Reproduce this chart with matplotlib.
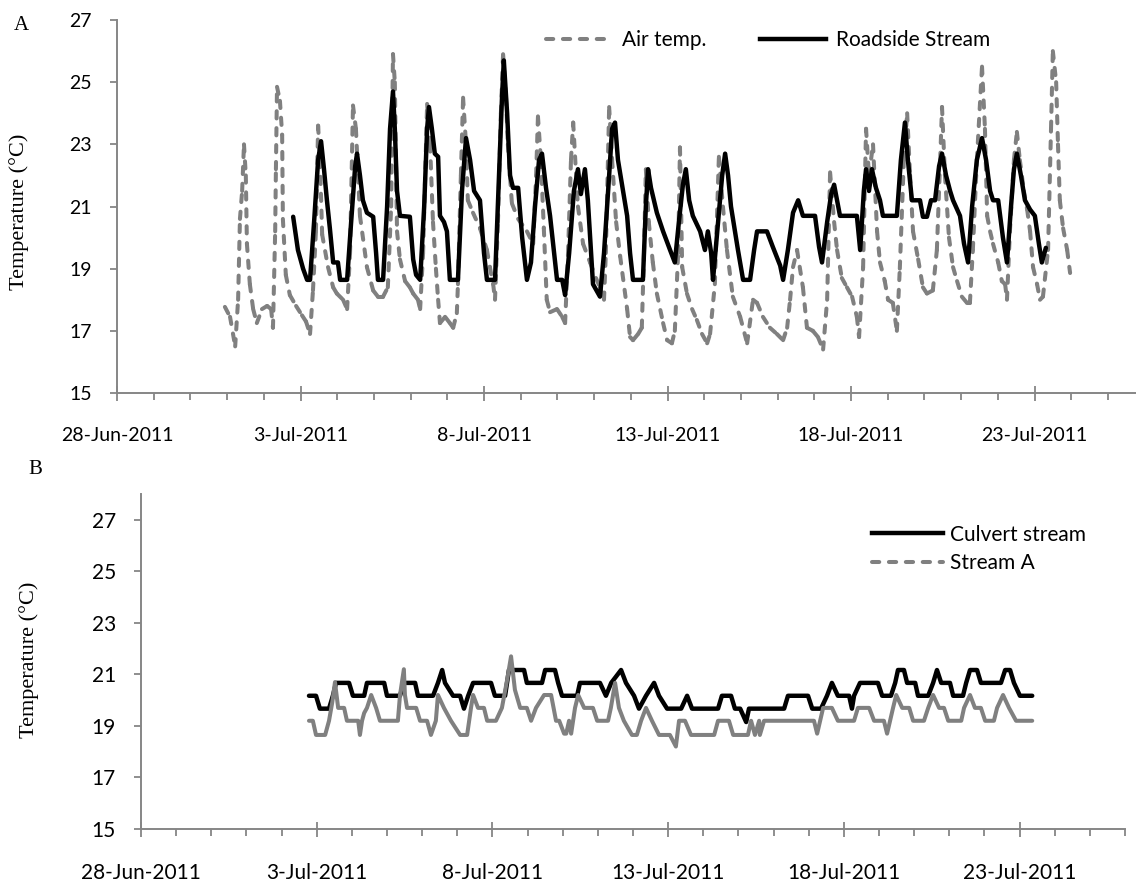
import numpy as np
import pandas as pd
import matplotlib
matplotlib.use("Agg")
import matplotlib.pyplot as plt
import matplotlib.dates as mdates
from matplotlib.collections import LineCollection
from matplotlib.lines import Line2D

# (days after 28-Jun-2011 00:00, temperature in degC)
air_temp = [
    (2.94, 17.77), (3.08, 17.45), (3.22, 16.5), (3.30, 18.0), (3.35, 20.6), (3.41, 21.5), (3.46, 23.0),
    (3.51, 22.0), (3.54, 19.8), (3.62, 18.5), (3.71, 17.7), (3.81, 17.25), (3.95, 17.7), (4.09, 17.8),
    (4.20, 17.7), (4.25, 17.1), (4.31, 20.2), (4.33, 22.2), (4.36, 24.85), (4.44, 24.4), (4.50, 23.3),
    (4.52, 20.6), (4.60, 18.8), (4.71, 18.15), (4.88, 17.8), (5.04, 17.5), (5.15, 17.3), (5.26, 16.9),
    (5.34, 18.3), (5.42, 20.2), (5.48, 23.6), (5.53, 22.5), (5.59, 20.1), (5.75, 19.05), (5.89, 18.4),
    (5.99, 18.2), (6.16, 18.0), (6.27, 17.7), (6.35, 19.5), (6.43, 24.25), (6.51, 23.5), (6.57, 22.0),
    (6.62, 20.7), (6.81, 19.05), (6.98, 18.3), (7.11, 18.1), (7.25, 18.1), (7.38, 18.4), (7.47, 21.0),
    (7.52, 25.9), (7.57, 25.0), (7.63, 20.2), (7.71, 19.3), (7.85, 18.6), (7.98, 18.4), (8.07, 18.2),
    (8.20, 18.0), (8.26, 17.7), (8.34, 19.5), (8.45, 24.3), (8.53, 23.0), (8.61, 20.5), (8.69, 19.0),
    (8.75, 18.0), (8.80, 17.25), (8.94, 17.45), (9.07, 17.25), (9.16, 17.1), (9.26, 17.57), (9.29, 18.5),
    (9.37, 22.0), (9.43, 24.5), (9.51, 23.0), (9.56, 21.2), (9.70, 20.8), (9.89, 20.3), (10.08, 19.6),
    (10.16, 19.05), (10.25, 18.5), (10.30, 18.0), (10.38, 20.5), (10.46, 24.0), (10.52, 25.9),
    (10.60, 24.5), (10.65, 23.0), (10.76, 21.1), (10.93, 20.6), (11.17, 20.2), (11.34, 19.8),
    (11.42, 22.0), (11.47, 23.9), (11.55, 22.5), (11.63, 20.3), (11.71, 18.0), (11.80, 17.6),
    (11.99, 17.7), (12.13, 17.45), (12.21, 17.25), (12.29, 19.5), (12.37, 22.5), (12.43, 23.7),
    (12.51, 22.0), (12.56, 21.0), (12.70, 19.8), (12.89, 19.2), (13.05, 18.7), (13.16, 18.4),
    (13.27, 18.0), (13.32, 19.5), (13.41, 24.2), (13.49, 22.5), (13.60, 20.5), (13.71, 19.4),
    (13.90, 17.7), (13.98, 16.8), (14.06, 16.7), (14.20, 16.9), (14.30, 17.1), (14.36, 19.5),
    (14.41, 22.2), (14.49, 20.5), (14.60, 19.2), (14.71, 18.2), (14.88, 17.25), (14.99, 16.7),
    (15.12, 16.6), (15.20, 17.0), (15.29, 19.5), (15.34, 22.9), (15.40, 19.05), (15.53, 18.2),
    (15.67, 17.7), (15.80, 17.35), (15.94, 16.9), (16.08, 16.6), (16.16, 16.9), (16.29, 18.5),
    (16.40, 22.6), (16.51, 21.0), (16.62, 19.6), (16.78, 18.1), (16.98, 17.45), (17.17, 16.6),
    (17.33, 18.0), (17.44, 17.9), (17.60, 17.45), (17.79, 17.1), (17.98, 16.9), (18.15, 16.7),
    (18.26, 17.1), (18.34, 18.0), (18.42, 19.05), (18.53, 19.6), (18.69, 18.4), (18.80, 17.1),
    (18.96, 17.0), (19.10, 16.8), (19.24, 16.4), (19.35, 18.0), (19.43, 22.1), (19.54, 20.5),
    (19.62, 19.6), (19.75, 18.7), (19.89, 18.4), (20.03, 18.1), (20.16, 17.45), (20.22, 16.8),
    (20.33, 19.05), (20.41, 23.5), (20.49, 22.0), (20.60, 23.0), (20.71, 20.2), (20.79, 19.2),
    (20.92, 18.6), (21.01, 18.0), (21.14, 17.9), (21.25, 17.0), (21.33, 19.0), (21.44, 22.5),
    (21.53, 24.0), (21.61, 22.0), (21.69, 20.2), (21.83, 19.3), (21.96, 18.4), (22.07, 18.2),
    (22.23, 18.3), (22.34, 19.6), (22.43, 22.5), (22.48, 24.2), (22.56, 22.0), (22.67, 20.0),
    (22.78, 19.05), (22.89, 18.6), (23.02, 18.1), (23.16, 17.9), (23.24, 17.9), (23.32, 19.6),
    (23.43, 22.5), (23.57, 25.5), (23.65, 23.5), (23.71, 20.7), (23.79, 20.2), (23.87, 19.8),
    (24.01, 19.2), (24.11, 18.6), (24.20, 18.5), (24.25, 18.0), (24.33, 20.2), (24.44, 22.5),
    (24.52, 23.4), (24.60, 22.5), (24.71, 21.5), (24.80, 20.9), (24.88, 20.2), (24.96, 19.05),
    (25.07, 18.5), (25.15, 18.0), (25.23, 18.1), (25.37, 19.6), (25.45, 23.5), (25.50, 26.0),
    (25.59, 25.0), (25.64, 23.0), (25.69, 21.2), (25.78, 20.3), (25.89, 19.6), (25.97, 18.86),
]

roadside = [
    (4.80, 20.67), (4.93, 19.6), (5.07, 19.0), (5.18, 18.64), (5.26, 18.64), (5.37, 20.5), (5.48, 22.5),
    (5.56, 23.1), (5.64, 22.2), (5.72, 21.2), (5.80, 20.3), (5.89, 19.2), (6.02, 19.2), (6.08, 18.64),
    (6.27, 18.64), (6.38, 20.5), (6.49, 22.3), (6.54, 22.7), (6.62, 22.0), (6.70, 21.2), (6.81, 20.8),
    (6.98, 20.67), (7.06, 19.5), (7.11, 18.64), (7.25, 18.64), (7.36, 21.0), (7.44, 23.5), (7.52, 24.7),
    (7.57, 23.5), (7.63, 21.5), (7.71, 20.7), (7.98, 20.67), (8.07, 19.3), (8.15, 18.8), (8.26, 18.64),
    (8.37, 21.0), (8.45, 23.5), (8.50, 24.2), (8.58, 23.5), (8.66, 22.7), (8.75, 22.6), (8.80, 20.7),
    (8.91, 20.5), (8.99, 20.2), (9.07, 18.64), (9.29, 18.64), (9.40, 21.5), (9.51, 23.2), (9.62, 22.5),
    (9.73, 21.5), (9.89, 21.2), (10.00, 19.5), (10.08, 18.64), (10.30, 18.64), (10.41, 22.0),
    (10.49, 24.5), (10.54, 25.7), (10.63, 24.0), (10.71, 22.0), (10.79, 21.6), (10.93, 21.6),
    (11.04, 20.0), (11.17, 18.64), (11.28, 19.2), (11.39, 21.0), (11.50, 22.5), (11.58, 22.7),
    (11.69, 21.6), (11.80, 20.7), (11.91, 19.5), (11.99, 18.64), (12.13, 18.64), (12.21, 18.15),
    (12.32, 19.5), (12.45, 21.5), (12.56, 22.2), (12.64, 21.4), (12.75, 22.2), (12.83, 21.2),
    (12.97, 18.5), (13.16, 18.1), (13.27, 19.5), (13.41, 22.0), (13.49, 23.5), (13.57, 23.7),
    (13.65, 22.5), (13.76, 21.7), (13.90, 20.7), (13.98, 19.5), (14.06, 18.64), (14.33, 18.64),
    (14.41, 21.0), (14.47, 22.2), (14.55, 21.6), (14.71, 20.8), (14.88, 20.2), (15.07, 19.6),
    (15.20, 19.2), (15.31, 20.5), (15.42, 21.7), (15.50, 22.2), (15.59, 21.2), (15.69, 20.7),
    (15.89, 20.2), (16.02, 19.6), (16.10, 20.2), (16.19, 19.5), (16.24, 18.64), (16.38, 20.5),
    (16.49, 22.0), (16.57, 22.7), (16.65, 22.0), (16.73, 21.0), (16.84, 20.2), (16.92, 19.6),
    (17.06, 18.64), (17.25, 18.64), (17.36, 19.6), (17.44, 20.2), (17.71, 20.2), (17.87, 19.7),
    (18.07, 19.1), (18.15, 18.64), (18.28, 19.6), (18.42, 20.8), (18.56, 21.2), (18.69, 20.7),
    (19.02, 20.7), (19.13, 19.7), (19.21, 19.2), (19.35, 20.5), (19.46, 21.4), (19.54, 21.7),
    (19.62, 21.2), (19.70, 20.7), (20.16, 20.7), (20.25, 19.6), (20.35, 21.5), (20.41, 22.2),
    (20.49, 21.5), (20.57, 22.2), (20.68, 21.6), (20.79, 21.2), (20.87, 20.7), (21.25, 20.7),
    (21.36, 22.5), (21.47, 23.7), (21.55, 22.5), (21.66, 21.2), (21.88, 21.2), (21.96, 20.67),
    (22.07, 20.67), (22.18, 21.2), (22.29, 21.2), (22.40, 22.3), (22.48, 22.7), (22.59, 22.0),
    (22.70, 21.5), (22.78, 21.2), (22.97, 20.7), (23.08, 19.8), (23.19, 19.2), (23.30, 21.0),
    (23.43, 22.5), (23.57, 23.2), (23.68, 22.5), (23.79, 21.5), (23.87, 21.2), (24.01, 21.2),
    (24.14, 20.0), (24.25, 19.2), (24.36, 21.0), (24.44, 22.2), (24.52, 22.7), (24.63, 22.0),
    (24.74, 21.2), (24.88, 20.9), (25.01, 20.7), (25.12, 19.8), (25.20, 19.2), (25.31, 19.67),
]

culvert = [
    (4.78, 20.17), (4.98, 20.17), (5.09, 19.67), (5.35, 19.67), (5.46, 20.17), (5.55, 20.67),
    (5.92, 20.67), (6.03, 20.17), (6.35, 20.17), (6.43, 20.67), (6.92, 20.67), (7.00, 20.17),
    (7.37, 20.17), (7.48, 20.67), (7.80, 20.67), (7.88, 20.17), (8.31, 20.17), (8.45, 20.67),
    (8.57, 21.17), (8.65, 20.67), (8.88, 20.17), (9.08, 20.17), (9.19, 19.67), (9.31, 20.17),
    (9.45, 20.67), (9.96, 20.67), (10.07, 20.17), (10.36, 20.17), (10.47, 21.17), (10.90, 21.17),
    (10.98, 20.67), (11.41, 20.67), (11.50, 21.17), (11.78, 21.17), (11.87, 20.67), (11.98, 20.17),
    (12.41, 20.17), (12.49, 20.67), (13.06, 20.67), (13.23, 20.17), (13.38, 20.67), (13.66, 21.17),
    (13.80, 20.67), (14.03, 20.17), (14.17, 19.67), (14.37, 20.17), (14.60, 20.67), (14.74, 20.17),
    (14.97, 19.67), (15.37, 19.67), (15.54, 20.17), (15.68, 19.67), (16.42, 19.67), (16.53, 20.17),
    (16.79, 20.17), (16.90, 19.67), (17.05, 19.67), (17.22, 19.15), (17.30, 19.67), (18.30, 19.67),
    (18.41, 20.17), (18.98, 20.17), (19.10, 19.67), (19.35, 19.67), (19.52, 20.17), (19.66, 20.67),
    (19.83, 20.17), (20.15, 20.17), (20.23, 19.67), (20.29, 20.17), (20.46, 20.67), (20.97, 20.67),
    (21.09, 20.17), (21.34, 20.17), (21.46, 20.67), (21.54, 21.17), (21.71, 21.17), (21.80, 20.67),
    (22.03, 20.67), (22.11, 20.17), (22.40, 20.17), (22.54, 20.67), (22.65, 21.17), (22.77, 20.67),
    (23.02, 20.67), (23.11, 20.17), (23.39, 20.17), (23.48, 20.67), (23.59, 21.17), (23.79, 21.17),
    (23.90, 20.67), (24.47, 20.67), (24.59, 21.17), (24.73, 21.17), (24.84, 20.67), (25.01, 20.17),
    (25.36, 20.17),
]

stream_a = [
    (4.78, 19.2), (4.89, 19.2), (4.98, 18.65), (5.24, 18.65), (5.35, 19.2), (5.44, 19.9), (5.52, 20.7),
    (5.61, 19.7), (5.78, 19.7), (5.86, 19.2), (6.18, 19.2), (6.23, 18.65), (6.29, 19.2), (6.35, 19.5),
    (6.43, 19.7), (6.55, 20.2), (6.69, 19.7), (6.80, 19.2), (7.31, 19.2), (7.37, 20.2), (7.48, 21.2),
    (7.51, 20.2), (7.57, 19.7), (7.83, 19.7), (7.94, 19.2), (8.14, 19.2), (8.25, 18.65), (8.39, 19.2),
    (8.45, 20.2), (8.62, 19.7), (8.82, 19.2), (9.08, 18.65), (9.28, 18.65), (9.39, 19.7), (9.45, 20.2),
    (9.59, 19.7), (9.76, 19.7), (9.85, 19.2), (10.10, 19.2), (10.27, 19.7), (10.42, 20.8),
    (10.53, 21.7), (10.64, 20.4), (10.79, 19.7), (10.98, 19.7), (11.10, 19.2), (11.24, 19.7),
    (11.47, 20.2), (11.67, 20.2), (11.81, 19.2), (11.90, 19.2), (12.04, 18.7), (12.10, 18.7),
    (12.18, 19.2), (12.24, 18.7), (12.35, 19.7), (12.44, 20.2), (12.61, 19.7), (12.86, 19.7),
    (12.98, 19.2), (13.29, 19.2), (13.37, 19.7), (13.49, 20.67), (13.60, 19.7), (13.74, 19.2),
    (13.97, 18.65), (14.11, 18.65), (14.23, 19.2), (14.37, 19.7), (14.54, 19.2), (14.74, 18.65),
    (15.05, 18.65), (15.22, 18.2), (15.31, 19.2), (15.48, 19.2), (15.65, 18.65), (16.31, 18.65),
    (16.42, 19.2), (16.73, 19.2), (16.85, 18.65), (17.27, 18.65), (17.36, 19.2), (17.47, 18.65),
    (17.59, 19.2), (17.61, 18.65), (17.73, 19.2), (19.15, 19.2), (19.24, 18.7), (19.41, 19.7),
    (19.66, 19.7), (19.83, 19.2), (20.29, 19.2), (20.40, 19.7), (20.72, 19.7), (20.86, 19.2),
    (21.14, 19.2), (21.23, 18.7), (21.40, 19.7), (21.49, 20.2), (21.66, 19.7), (21.86, 19.7),
    (21.97, 19.2), (22.28, 19.2), (22.40, 19.7), (22.54, 20.2), (22.71, 19.7), (22.85, 19.7),
    (22.97, 19.2), (23.34, 19.2), (23.42, 19.7), (23.59, 20.2), (23.73, 19.7), (23.90, 19.7),
    (24.02, 19.2), (24.27, 19.2), (24.36, 19.7), (24.53, 20.2), (24.70, 19.7), (24.90, 19.2),
    (25.36, 19.2),
]

xtick_labels = ['28-Jun-2011', '3-Jul-2011', '8-Jul-2011', '13-Jul-2011', '18-Jul-2011', '23-Jul-2011']
yticks = [15, 17, 19, 21, 23, 25, 27]

START = pd.Timestamp('2011-06-28')
END = pd.Timestamp('2011-07-26')
GRAY = '#808080'
AXIS_GRAY = '#868686'
DASH = (0, (1.8, 2.4))


def to_num(series):
    days = np.array([p[0] for p in series])
    temps = np.array([p[1] for p in series])
    x = mdates.date2num(START + pd.to_timedelta(days, unit='D'))
    return x, temps


def dashed(ax, x, y, lw):
    # excel restarts the dash pattern on every segment
    pts = np.column_stack([x, y])
    segs = np.stack([pts[:-1], pts[1:]], axis=1)
    lc = LineCollection(segs, colors=GRAY, linewidths=lw, linestyles=[DASH], capstyle='round')
    ax.add_collection(lc)


def style_axes(ax, ymax, size):
    for s in ['top', 'right']:
        ax.spines[s].set_visible(False)
    for s in ['left', 'bottom']:
        ax.spines[s].set_color(AXIS_GRAY)
        ax.spines[s].set_linewidth(1.4)
    ax.set_xlim(mdates.date2num(START), mdates.date2num(END))
    ax.set_ylim(15, ymax)
    ax.set_yticks(yticks)
    ticks = [mdates.date2num(pd.Timestamp(lbl)) for lbl in xtick_labels]
    ax.set_xticks(ticks)
    ax.set_xticklabels(xtick_labels)
    ax.xaxis.set_minor_locator(mdates.DayLocator())
    ax.tick_params(axis='x', which='major', direction='inout', length=10.8, width=1.3,
                   color=AXIS_GRAY, pad=19, labelsize=size)
    ax.tick_params(axis='x', which='minor', direction='out', length=5, width=1.3, color=AXIS_GRAY)
    ax.tick_params(axis='y', direction='out', length=5, width=1.3, color=AXIS_GRAY,
                   pad=13, labelsize=size)
    for lbl in ax.get_xticklabels() + ax.get_yticklabels():
        lbl.set_family('Lato')


W, H = 1136, 882
fig = plt.figure(figsize=(W / 100, H / 100), dpi=100)

# panel A
axA = fig.add_axes([117 / W, 1 - 393 / H, 1027.6 / W, 373 / H])
style_axes(axA, 27, 14)
x, y = to_num(air_temp)
dashed(axA, x, y, 2.9)
x, y = to_num(roadside)
axA.plot(x, y, color='black', lw=3.2, solid_joinstyle='round', solid_capstyle='round')

hA = [Line2D([], [], color=GRAY, lw=2.9, linestyle=DASH, dash_capstyle='round'),
      Line2D([], [], color='black', lw=3.2)]
axA.legend(hA, ['Air temp.', 'Roadside Stream'], loc='center left',
           bbox_to_anchor=(546 / W, 1 - 40 / H), bbox_transform=fig.transFigure,
           ncol=2, frameon=False, borderpad=0, borderaxespad=0, handlelength=3.15,
           handletextpad=0.48, columnspacing=2.6, prop={'family': 'Lato', 'size': 15})

# panel B
axB = fig.add_axes([141 / W, 1 - 829 / H, 984 / W, 335 / H])
style_axes(axB, 28, 15)
x, y = to_num(culvert)
axB.plot(x, y, color='black', lw=3.2, solid_joinstyle='round', solid_capstyle='round')
x, y = to_num(stream_a)
axB.plot(x, y, color=GRAY, lw=2.9, solid_joinstyle='round', solid_capstyle='round')

hB = [Line2D([], [], color='black', lw=3.2),
      Line2D([], [], color=GRAY, lw=2.9, linestyle=DASH, dash_capstyle='round')]
axB.legend(hB, ['Culvert stream', 'Stream A'], loc='center left',
           bbox_to_anchor=(872 / W, 1 - 549 / H), bbox_transform=fig.transFigure,
           frameon=False, borderpad=0, borderaxespad=0, handlelength=3.4,
           handletextpad=0.35, labelspacing=0.42, prop={'family': 'Lato', 'size': 15})

serif = 'Liberation Serif'
fig.text(19 / W, 1 - 212 / H, 'Temperature (°C)', rotation=90, ha='center', va='center',
         family=serif, fontsize=16)
fig.text(29 / W, 1 - 660 / H, 'Temperature (°C)', rotation=90, ha='center', va='center',
         family=serif, fontsize=16)
fig.text(21 / W, 1 - 26 / H, 'A', ha='center', va='center', family=serif, fontsize=15)
fig.text(35 / W, 1 - 470 / H, 'B', ha='center', va='center', family=serif, fontsize=15)

fig.savefig('out.png', dpi=100)
